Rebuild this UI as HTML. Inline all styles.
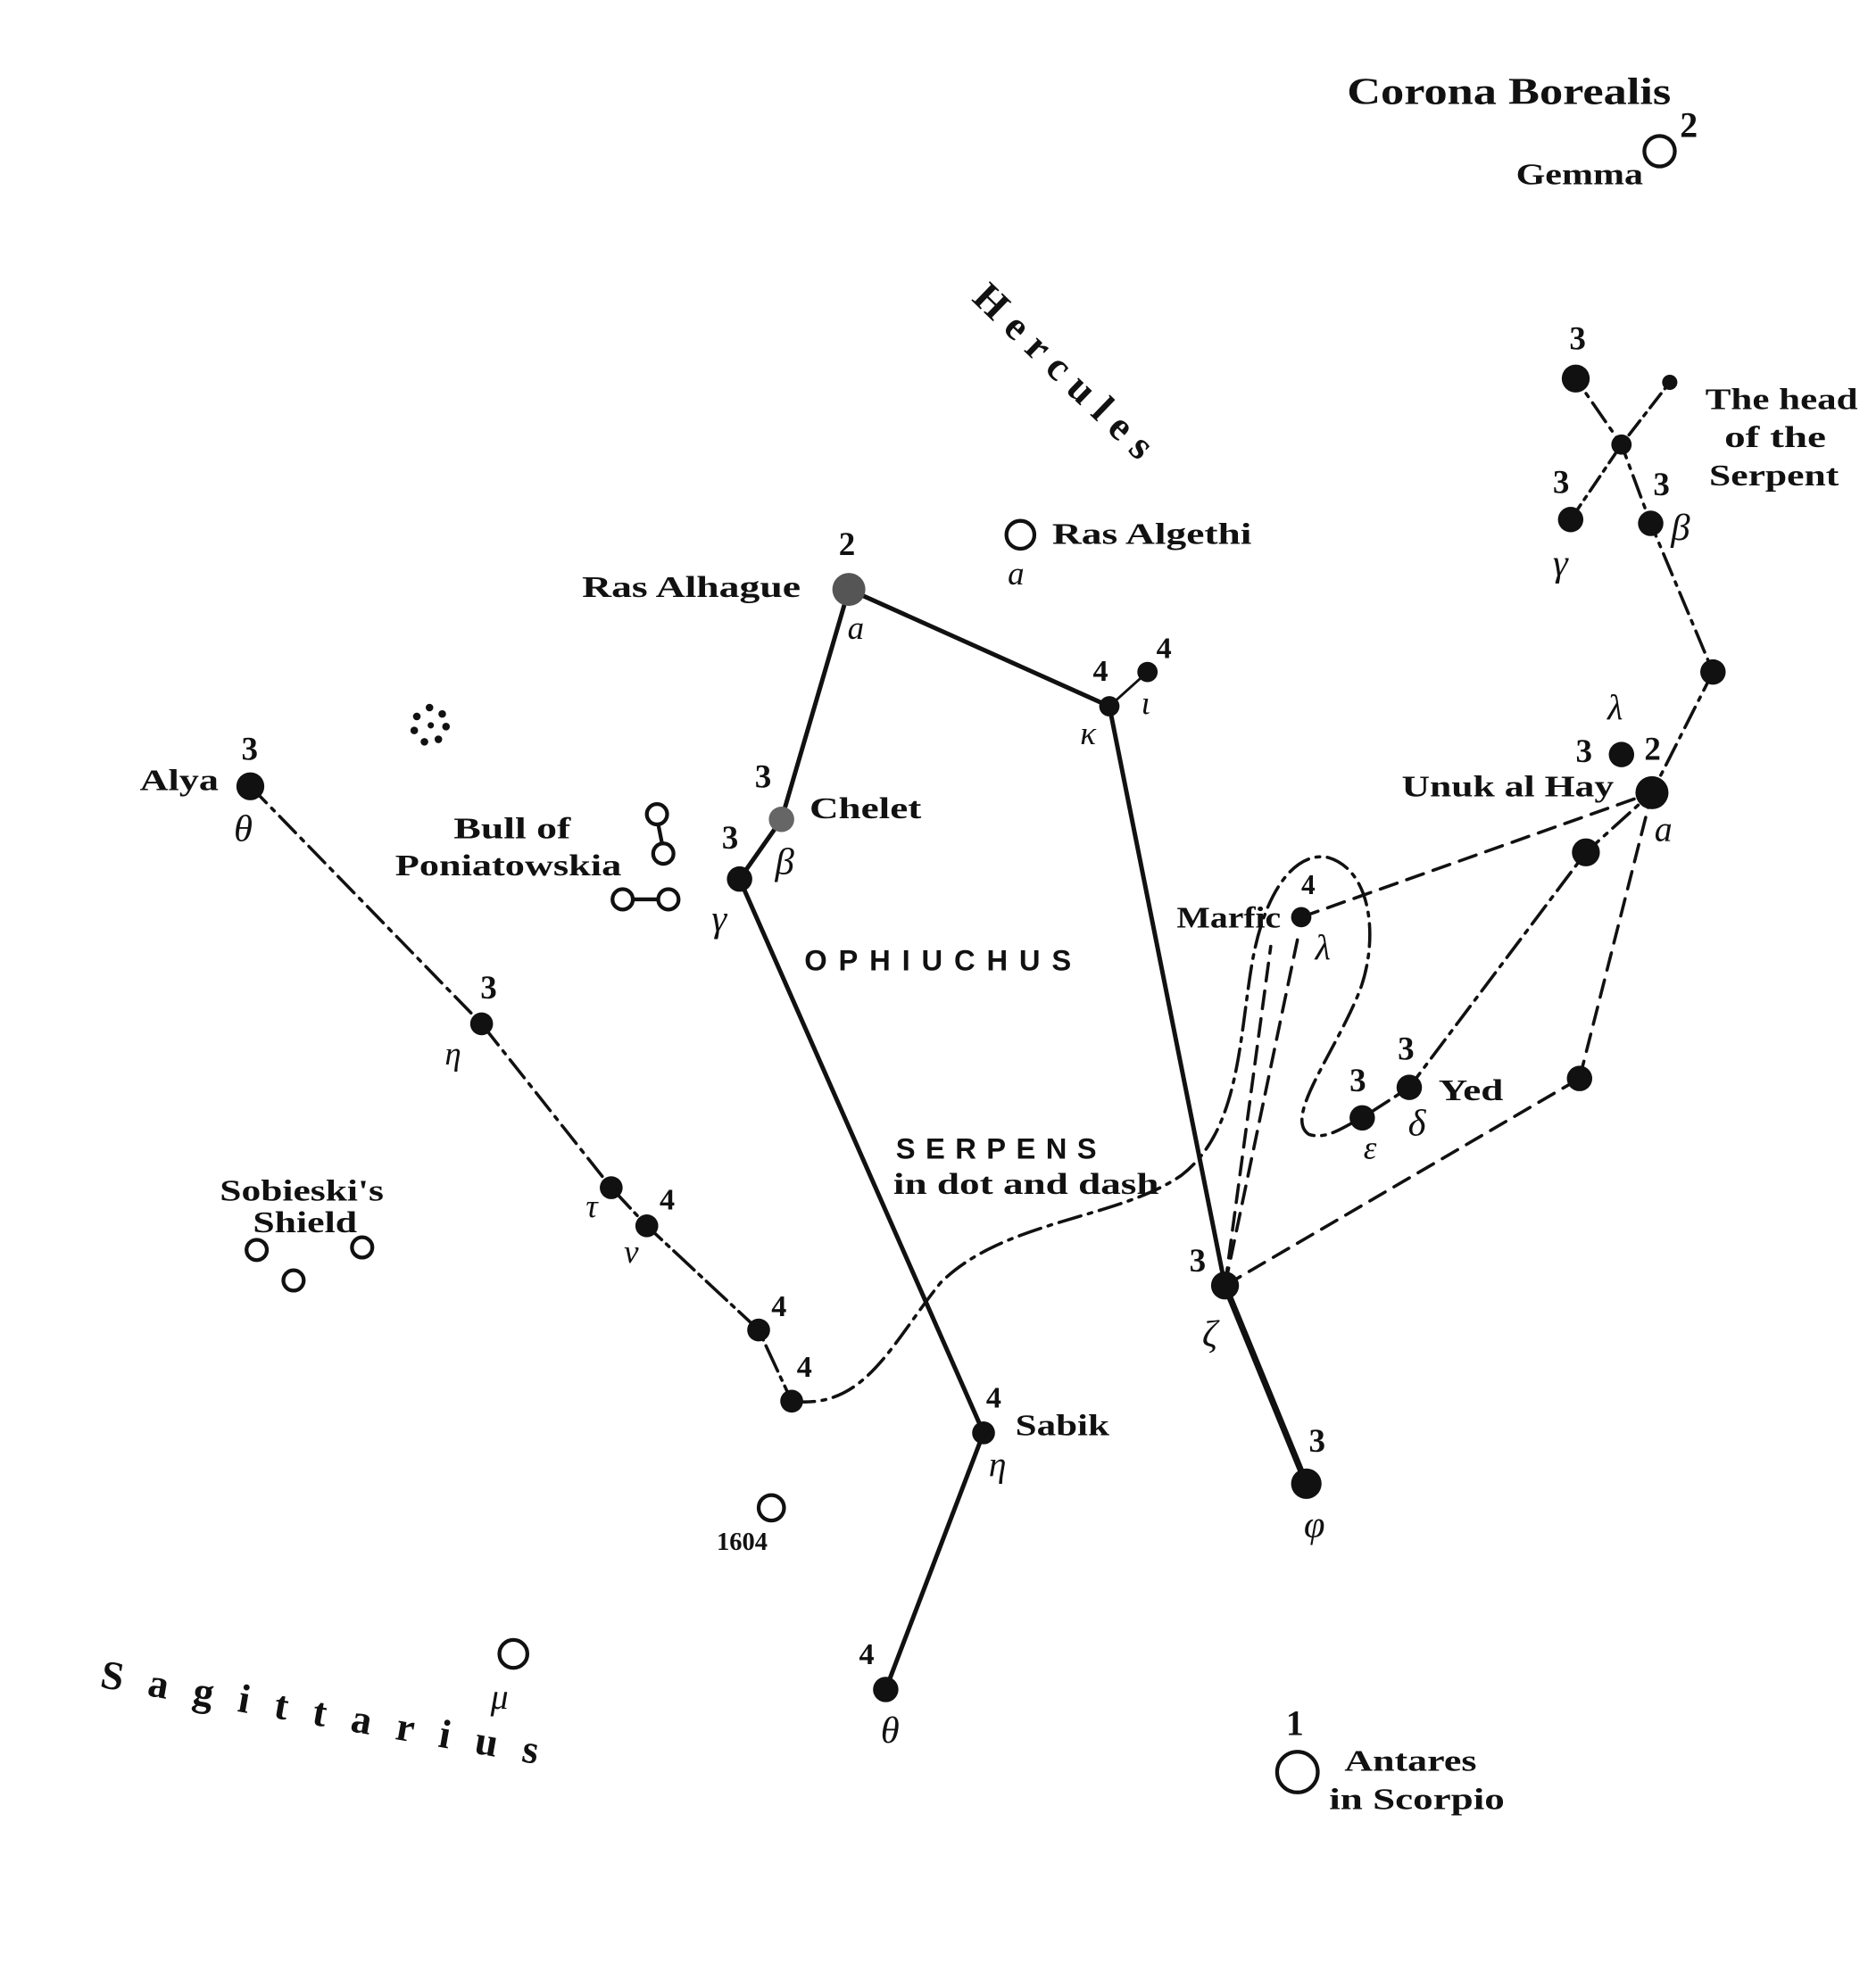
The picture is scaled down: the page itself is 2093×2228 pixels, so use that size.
<!DOCTYPE html>
<html><head><meta charset="utf-8"><style>
html,body{margin:0;padding:0;background:#fff}
svg{display:block}
text{font-family:"Liberation Serif",serif;font-weight:bold;fill:#111}
.s{font-family:"Liberation Sans",sans-serif}
.g{font-style:italic;font-weight:normal}
</style></head><body>
<svg width="2093" height="2228" viewBox="0 0 1470 1565" preserveAspectRatio="none" xmlns="http://www.w3.org/2000/svg">
<rect width="1470" height="1565" fill="#fff"/>
<g stroke="#111" fill="none" stroke-linecap="round">
<polyline points="668,464 615,645 582,692 774,1128 697,1330" stroke-width="3.5"/>
<polyline points="668,464 873,556 964,1012" stroke-width="3.5"/>
<line x1="873" y1="556" x2="903" y2="529" stroke-width="2"/>
<line x1="964" y1="1012" x2="1028" y2="1168" stroke-width="5"/>
<polyline points="197,619 379,806 481,935" stroke-width="2.5" stroke-dasharray="18,6,3,6"/>
<polyline points="481,935 509,965 597,1047 623,1103" stroke-width="2.5" stroke-dasharray="22,5,3,5"/>
<path d="M623,1103 C680,1110 700,1060 740,1010 C790,960 880,960 930,925 C975,890 975,820 985,760 C995,700 1020,670 1045,675 C1080,685 1085,740 1070,780 C1050,830 1010,880 1030,893 C1045,898 1060,885 1072,880 L1109,856 L1248,671 L1300,624 L1348,529 L1299,412 L1276,350 L1240,298" stroke-width="2.5" stroke-dasharray="18,6,3,6"/>
<polyline points="1236,409 1276,350 1314,301" stroke-width="2.5" stroke-dasharray="14,5,3,5"/>
<g stroke-width="2.5" stroke-dasharray="14,8">
<line x1="1024" y1="722" x2="1300" y2="624"/>
<line x1="964" y1="1012" x2="1000" y2="745"/>
<line x1="964" y1="1012" x2="1022" y2="735"/>
<line x1="964" y1="1012" x2="1243" y2="849"/>
<line x1="1243" y1="849" x2="1300" y2="624"/>
</g>
</g>
<g fill="#111">
<circle cx="668" cy="464" r="13" fill="#555"/>
<circle cx="873" cy="556" r="8"/><circle cx="903" cy="529" r="8"/>
<circle cx="615" cy="645" r="10" fill="#666"/><circle cx="582" cy="692" r="10"/>
<circle cx="774" cy="1128" r="9"/><circle cx="697" cy="1330" r="10"/>
<circle cx="964" cy="1012" r="11"/><circle cx="1028" cy="1168" r="12"/>
<circle cx="1024" cy="722" r="8"/>
<circle cx="1300" cy="624" r="13"/><circle cx="1276" cy="594" r="10"/>
<circle cx="1248" cy="671" r="11"/><circle cx="1348" cy="529" r="10"/>
<circle cx="1299" cy="412" r="10"/><circle cx="1276" cy="350" r="8"/>
<circle cx="1240" cy="298" r="11"/><circle cx="1236" cy="409" r="10"/>
<circle cx="1314" cy="301" r="6"/>
<circle cx="1243" cy="849" r="10"/><circle cx="1109" cy="856" r="10"/><circle cx="1072" cy="880" r="10"/>
<circle cx="197" cy="619" r="11"/><circle cx="379" cy="806" r="9"/><circle cx="481" cy="935" r="9"/>
<circle cx="509" cy="965" r="9"/><circle cx="597" cy="1047" r="9"/><circle cx="623" cy="1103" r="9"/>
<g><circle cx="338" cy="557" r="3"/><circle cx="348" cy="562" r="3"/><circle cx="351" cy="572" r="3"/><circle cx="345" cy="582" r="3"/><circle cx="334" cy="584" r="3"/><circle cx="326" cy="575" r="3"/><circle cx="328" cy="564" r="3"/><circle cx="339" cy="571" r="2.5"/></g>
</g>
<g fill="none" stroke="#111" stroke-width="3">
<circle cx="1306" cy="119" r="12"/><circle cx="803" cy="421" r="11"/>
<circle cx="517" cy="641" r="8"/><circle cx="522" cy="672" r="8"/><circle cx="490" cy="708" r="8"/><circle cx="526" cy="708" r="8"/>
<line x1="498" y1="708" x2="518" y2="708"/><line x1="518" y1="649" x2="521" y2="664"/>
<circle cx="202" cy="984" r="8"/><circle cx="231" cy="1008" r="8"/><circle cx="285" cy="982" r="8"/>
<circle cx="607" cy="1187" r="10"/><circle cx="404" cy="1302" r="11"/><circle cx="1021" cy="1395" r="16"/>
</g>
<g font-size="24">
<text x="1060" y="82" font-size="30" textLength="255" lengthAdjust="spacingAndGlyphs">Corona Borealis</text>
<text x="1322" y="108" font-size="28">2</text>
<text x="1193" y="145" textLength="100" lengthAdjust="spacingAndGlyphs">Gemma</text>
<text x="1342" y="322" textLength="120" lengthAdjust="spacingAndGlyphs">The head</text>
<text x="1357" y="352" textLength="80" lengthAdjust="spacingAndGlyphs">of the</text>
<text x="1345" y="382" textLength="102" lengthAdjust="spacingAndGlyphs">Serpent</text>
<text x="1235" y="275" font-size="26">3</text><text x="1222" y="388" font-size="26">3</text><text x="1301" y="390" font-size="26">3</text>
<text x="1222" y="453" class="g" font-size="30">γ</text><text x="1315" y="425" class="g" font-size="30">β</text>
<text x="1265" y="566" class="g" font-size="28">λ</text>
<text x="1240" y="600" font-size="26">3</text><text x="1294" y="598" font-size="26">2</text>
<text x="1103" y="627" textLength="167" lengthAdjust="spacingAndGlyphs">Unuk al Hay</text>
<text x="1302" y="662" class="g" font-size="28">a</text>
<text x="458" y="470" textLength="172" lengthAdjust="spacingAndGlyphs">Ras Alhague</text><text x="660" y="437" font-size="26">2</text>
<text x="667" y="503" class="g" font-size="26">a</text>
<text x="828" y="428" textLength="157" lengthAdjust="spacingAndGlyphs">Ras Algethi</text><text x="793" y="460" class="g" font-size="26">a</text>
<text x="860" y="536">4</text><text x="910" y="518">4</text>
<text x="850" y="586" class="g" font-size="26">κ</text><text x="898" y="562" class="g" font-size="26">ι</text>
<text x="110" y="622" textLength="62" lengthAdjust="spacingAndGlyphs">Alya</text><text x="190" y="598" font-size="26">3</text>
<text x="184" y="662" class="g" font-size="30">θ</text>
<text x="357" y="660" textLength="92" lengthAdjust="spacingAndGlyphs">Bull of</text>
<text x="311" y="689" textLength="178" lengthAdjust="spacingAndGlyphs">Poniatowskia</text>
<text x="594" y="620" font-size="26">3</text><text x="637" y="644" textLength="88" lengthAdjust="spacingAndGlyphs">Chelet</text>
<text x="568" y="668" font-size="26">3</text><text x="610" y="688" class="g" font-size="30">β</text>
<text x="560" y="733" class="g" font-size="30">γ</text>
<text x="633" y="764" class="s" font-size="23" letter-spacing="9">OPHIUCHUS</text>
<text x="926" y="730" textLength="82" lengthAdjust="spacingAndGlyphs">Marfic</text><text x="1024" y="704" font-size="22">4</text>
<text x="1035" y="755" class="g" font-size="28">λ</text>
<text x="378" y="786" font-size="26">3</text><text x="350" y="838" class="g" font-size="26">η</text>
<text x="705" y="912" class="s" font-size="23" letter-spacing="8">SERPENS</text>
<text x="703" y="940" textLength="209" lengthAdjust="spacingAndGlyphs">in dot and dash</text>
<text x="1100" y="834" font-size="26">3</text><text x="1062" y="859" font-size="26">3</text>
<text x="1132" y="866" textLength="51" lengthAdjust="spacingAndGlyphs">Yed</text>
<text x="1073" y="912" class="g" font-size="26">ε</text><text x="1108" y="894" class="g" font-size="30">δ</text>
<text x="173" y="945" textLength="129" lengthAdjust="spacingAndGlyphs">Sobieski's</text>
<text x="199" y="970" textLength="82" lengthAdjust="spacingAndGlyphs">Shield</text>
<text x="461" y="958" class="g" font-size="26">τ</text><text x="519" y="952">4</text>
<text x="491" y="994" class="g" font-size="26">ν</text>
<text x="607" y="1036">4</text><text x="627" y="1084">4</text>
<text x="936" y="1001" font-size="26">3</text><text x="946" y="1060" class="g" font-size="30">ζ</text>
<text x="776" y="1108">4</text><text x="799" y="1130" textLength="74" lengthAdjust="spacingAndGlyphs">Sabik</text>
<text x="778" y="1162" class="g" font-size="28">η</text>
<text x="1030" y="1143" font-size="26">3</text><text x="1026" y="1210" class="g" font-size="30">φ</text>
<text x="564" y="1220" font-size="20">1604</text>
<text x="676" y="1310">4</text><text x="693" y="1372" class="g" font-size="30">θ</text>
<text x="386" y="1345" class="g" font-size="28">μ</text>
<text x="1012" y="1366" font-size="28">1</text>
<text x="1058" y="1394" textLength="104" lengthAdjust="spacingAndGlyphs">Antares</text>
<text x="1046" y="1424" textLength="138" lengthAdjust="spacingAndGlyphs">in Scorpio</text>
<text transform="translate(764,236) rotate(44)" font-size="32" letter-spacing="9">Hercules</text>
<text transform="translate(78,1328) rotate(10)" font-size="32" letter-spacing="20">Sagittarius</text>
</g>
</svg>
</body></html>
